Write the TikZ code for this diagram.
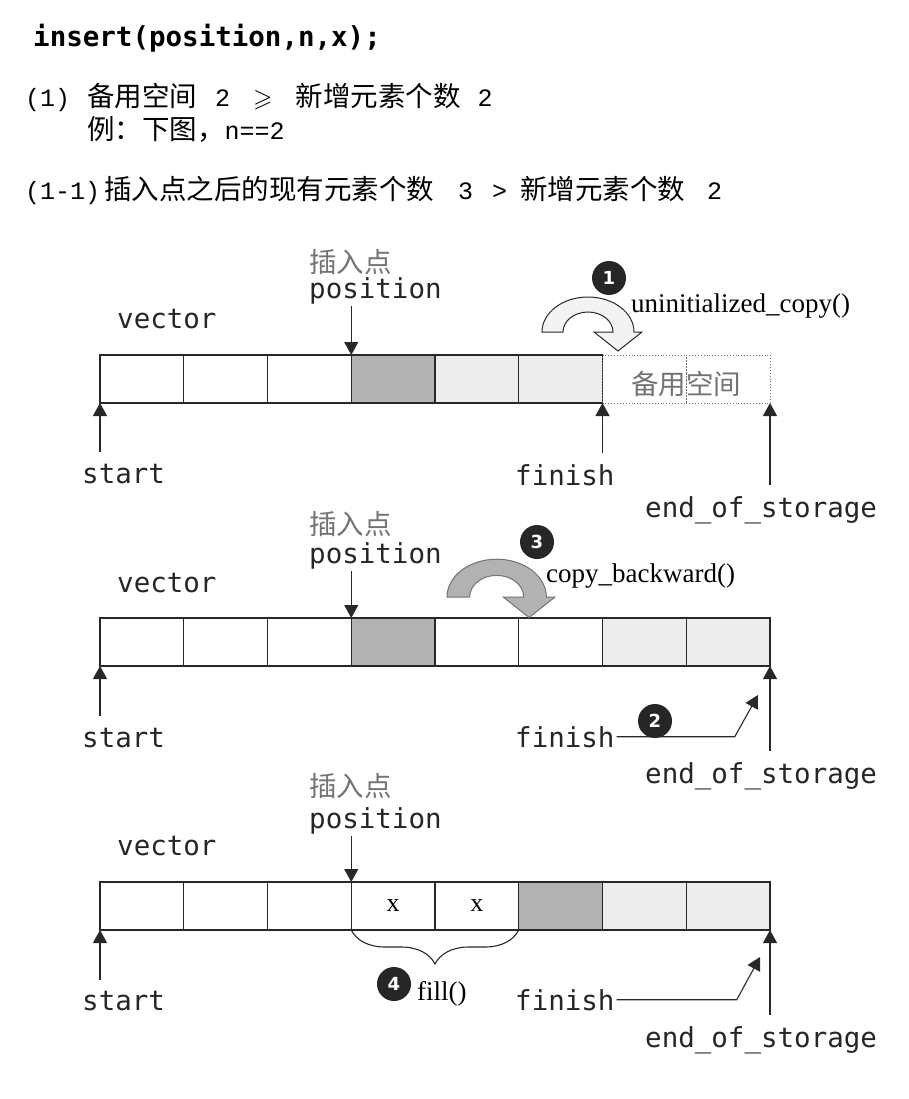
\documentclass[tikz,border=0pt]{standalone}
\usepackage{amssymb}
\usepackage{fontspec}
\setmainfont{Liberation Serif}
\setmonofont{DejaVu Sans Mono}
\newfontfamily\cjk{Noto Sans CJK SC}
\newfontfamily\thinmono{Liberation Mono}
\newfontfamily\numfont{DejaVu Sans}
\usepackage{tikz}
\usetikzlibrary{arrows.meta,positioning,decorations.pathreplacing}
\definecolor{ink}{RGB}{40,40,40}
\definecolor{darkcell}{RGB}{178,178,178}
\definecolor{lightcell}{RGB}{236,236,236}
\definecolor{softgray}{RGB}{115,115,115}
\definecolor{hollow}{RGB}{243,243,243}
\newcommand{\zh}[1]{{\fontsize{27.5}{32}\selectfont\cjk #1}}
\tikzset{turnarrow/.pic={
  \path[pic actions] (0,0) arc[start angle=180,end angle=360,x radius=46,y radius=35] -- (100,0) -- (76,19) -- (52,0) -- (71,0)
    arc[start angle=360,end angle=180,x radius=25,y radius=20] -- cycle;
}}

\begin{document}
\begin{tikzpicture}[x=1pt,y=-1pt,
  cell/.style={draw=ink,line width=1.1pt,minimum width=83.75pt,minimum height=48pt,inner sep=0pt,outer sep=0pt,font=\fontsize{26}{26}\selectfont},
  spare/.style={cell,draw=softgray,line width=0.9pt,dotted},
  head/.style={font=\fontsize{25}{30}\selectfont\thinmono,inner sep=0pt,anchor=base west},
  lbl/.style={font=\fontsize{27.5}{32}\selectfont\ttfamily,text=black!85,inner sep=2pt,anchor=base west},
  cjklbl/.style={font=\fontsize{27.5}{32}\selectfont\cjk,text=softgray,inner sep=2pt,anchor=base west},
  fn/.style={font=\fontsize{27}{32}\selectfont,inner sep=1pt,anchor=base west},
  numdot/.style={circle,fill=black!85,text=white,font=\fontsize{18}{18}\selectfont\numfont\bfseries,minimum size=34pt,inner sep=0pt},
  ptr/.style={-{Triangle[width=14pt,length=13pt]},draw=ink,line width=1.1pt},
  uptr/.style={ptr,shorten <=9pt}]
\useasboundingbox (0,0) rectangle (909,1099);

% heading
\node[font=\fontsize{27.5}{32}\selectfont\ttfamily\bfseries,inner sep=0pt,anchor=base west] (title) at (33,47) {insert(position,n,x);};
\node[head] (cond) at (25,107) {(1)\hspace{17pt}\zh{备用空间}\hspace{18pt}2\hspace{23pt}$\geqslant$\hspace{23pt}\zh{新增元素个数}\hspace{17pt}2};
\node[head] (eg) at (87,140) {\zh{例：下图，}n==2};
\node[head] (sub) at (25,200) {(1-1)\hspace{4pt}\zh{插入点之后的现有元素个数}\hspace{24pt}3\hspace{19pt}>\hspace{13pt}\zh{新增元素个数}\hspace{22pt}2};

% row 1
\node[cell,anchor=north west] (c10) at (100,355) {};
\node[cell,right=0pt of c10] (c11) {};
\node[cell,right=0pt of c11] (c12) {};
\node[cell,fill=darkcell,right=0pt of c12] (c13) {};
\node[cell,fill=lightcell,right=0pt of c13] (c14) {};
\node[cell,fill=lightcell,right=0pt of c14] (c15) {};
\node[spare,right=0pt of c15] (c16) {};
\node[spare,right=0pt of c16] (c17) {};
\node[cjklbl,anchor=center] (room1) at ([yshift=-5pt]c16.east) {备用空间};
\node[cjklbl] (ins1) at (307,272) {插入点};
\node[lbl] (pos1) at (307,298) {position};
\node[lbl] (vec1) at (115,328) {vector};
\node[lbl] (st1) at (80,483) {start};
\node[lbl] (fin1) at (513,485) {finish};
\node[lbl] (eos1) at (643,517) {end\_of\_storage};
\draw[ptr] (pos1.south -| c13.north west) -- (c13.north west);
\draw[uptr] (st1.north -| c10.south west) -- (c10.south west);
\draw[uptr] (fin1.north -| c16.south west) -- (c16.south west);
\draw[uptr] (eos1.north -| c17.south east) -- (c17.south east);
\pic[draw=ink,fill=hollow,line width=1pt] at (542,332) {turnarrow};
\node[numdot] (one) at (609,278) {1};
\node[fn] (ucopy) at (630,312) {uninitialized\_copy()};

% row 2
\node[cell,anchor=north west] (c20) at (100,618) {};
\node[cell,right=0pt of c20] (c21) {};
\node[cell,right=0pt of c21] (c22) {};
\node[cell,fill=darkcell,right=0pt of c22] (c23) {};
\node[cell,right=0pt of c23] (c24) {};
\node[cell,right=0pt of c24] (c25) {};
\node[cell,fill=lightcell,right=0pt of c25] (c26) {};
\node[cell,fill=lightcell,right=0pt of c26] (c27) {};
\node[cjklbl] (ins2) at (307,534) {插入点};
\node[lbl] (pos2) at (307,563) {position};
\node[lbl] (vec2) at (115,592) {vector};
\node[lbl] (st2) at (80,747) {start};
\node[lbl] (fin2) at (513,747) {finish};
\node[lbl] (eos2) at (643,783) {end\_of\_storage};
\draw[ptr] (pos2.south -| c23.north west) -- (c23.north west);
\draw[uptr] (st2.north -| c20.south west) -- (c20.south west);
\draw[uptr] (eos2.north -| c27.south east) -- (c27.south east);
\coordinate (tip2) at ([xshift=-12pt,yshift=-29pt]c27.south east);
\draw[ptr] (fin2.east) -- ++(118,0) -- (tip2);
\node[numdot] (two) at (655,721) {2};
\pic[draw=softgray,fill=darkcell,line width=1pt,scale=1.08] at (447,597) {turnarrow};
\node[numdot] (three) at (537,542) {3};
\node[fn] (cback) at (545,582) {copy\_backward()};

% row 3
\node[cell,anchor=north west] (c30) at (100,882) {};
\node[cell,right=0pt of c30] (c31) {};
\node[cell,right=0pt of c31] (c32) {};
\node[cell,right=0pt of c32] (c33) {x};
\node[cell,right=0pt of c33] (c34) {x};
\node[cell,fill=darkcell,right=0pt of c34] (c35) {};
\node[cell,fill=lightcell,right=0pt of c35] (c36) {};
\node[cell,fill=lightcell,right=0pt of c36] (c37) {};
\node[cjklbl] (ins3) at (307,796) {插入点};
\node[lbl] (pos3) at (307,828) {position};
\node[lbl] (vec3) at (115,855) {vector};
\node[lbl] (st3) at (80,1010) {start};
\node[lbl] (fin3) at (513,1010) {finish};
\node[lbl] (eos3) at (643,1047) {end\_of\_storage};
\draw[ptr] (pos3.south -| c33.north west) -- (c33.north west);
\draw[uptr] (st3.north -| c30.south west) -- (c30.south west);
\draw[uptr] (eos3.north -| c37.south east) -- (c37.south east);
\coordinate (tip3) at ([xshift=-10pt,yshift=-27pt]c37.south east);
\draw[ptr] (fin3.east) -- ++(120,0) -- (tip3);
\draw[decorate,decoration={brace,amplitude=34pt,mirror},draw=ink,line width=1.1pt] (c33.south west) -- (c34.south east);
\node[numdot] (four) at (394,984) {4};
\node[fn] (fillfn) at (416,1000) {fill()};
\end{tikzpicture}
\end{document}
